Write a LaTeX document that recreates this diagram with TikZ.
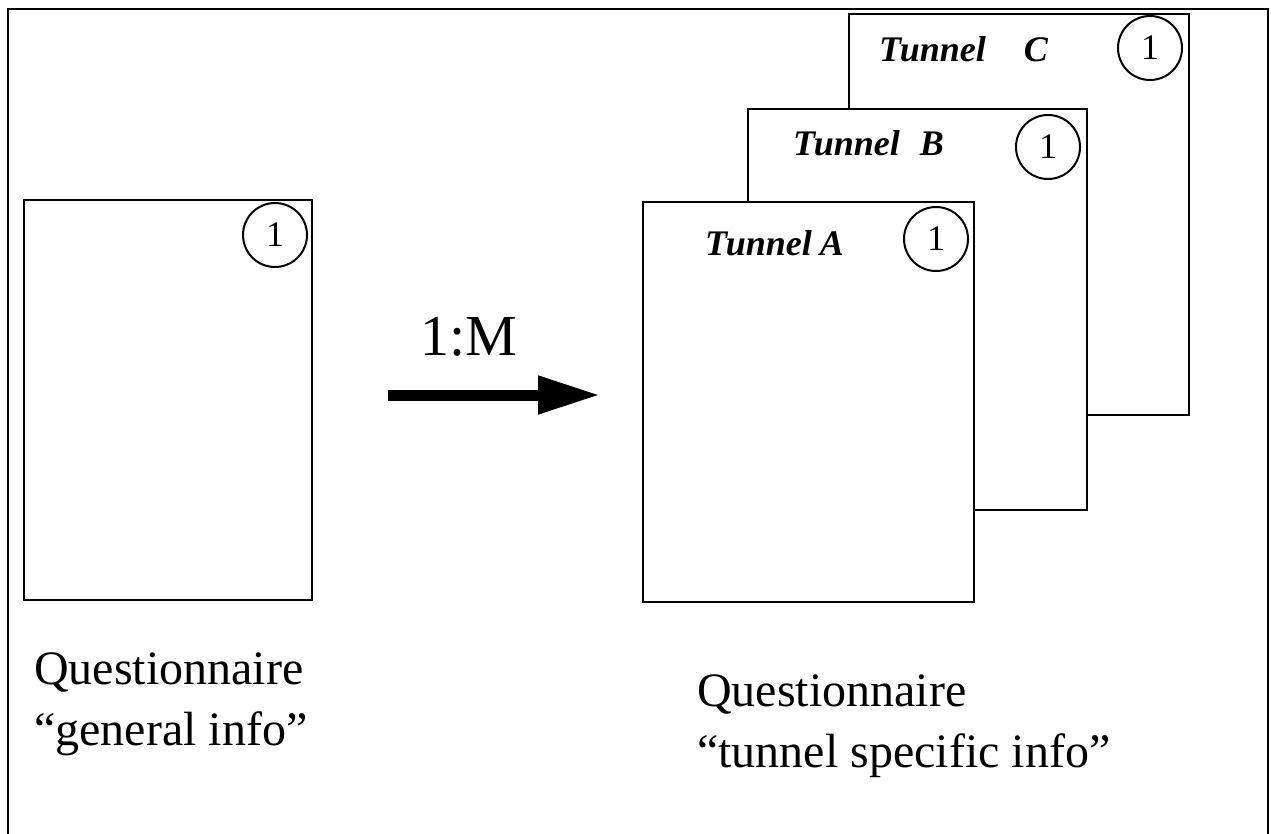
\documentclass[tikz,border=0pt]{standalone}
\usepackage{fontspec}
\setmainfont{Liberation Serif}
\usetikzlibrary{arrows.meta}
\tikzset{
  sheet/.style={draw, line width=2.5pt, fill=white, inner sep=0pt},
  badge/.style={draw, circle, line width=2pt, minimum size=64pt, inner sep=0pt,
    font=\fontsize{36}{36}\selectfont},
  tunnellabel/.style={anchor=base west, inner sep=0pt,
    font=\fontsize{36}{36}\selectfont\bfseries\itshape},
  caption/.style={anchor=base west, inner sep=0pt, font=\fontsize{48}{48}\selectfont},
  ratio/.style={anchor=base west, inner sep=0pt, font=\fontsize{58}{58}\selectfont},
  frameline/.style={line width=2.5pt},
  bigarrow/.style={line width=11pt, -{Triangle[length=62pt,width=36pt]}},
}
\begin{document}
\begin{tikzpicture}[x=1pt,y=-1pt]
\useasboundingbox (0,0) rectangle (1271,833);
\clip (0,0) rectangle (1271,833);

% outer frame (runs past the lower edge)
\draw[frameline] (8,9) rectangle (1268,900);

% general questionnaire sheet
\node[sheet, minimum width=288pt, minimum height=400pt] (gen) at (168,400) {};
\node[badge] (genone) at (275,235) {1};

% stack of tunnel sheets, back to front
\node[sheet, minimum width=340pt, minimum height=401pt] (tc) at (1019,214.5) {};
\node[badge] (tcone) at (1150,48) {1};
\node[tunnellabel] (tctext) at (879,61) {Tunnel\hspace{38pt}C};

\node[sheet, minimum width=339pt, minimum height=401pt] (tb) at (917.5,309.5) {};
\node[badge] (tbone) at (1048,147) {1};
\node[tunnellabel] (tbtext) at (793,155) {Tunnel\hspace{20pt}B};

\node[sheet, minimum width=331pt, minimum height=400pt] (ta) at (808.5,402) {};
\node[badge] (taone) at (936,239) {1};
\node[tunnellabel] (tatext) at (705,255) {Tunnel\hspace{8pt}A};

% one-to-many arrow
\coordinate (arrstart) at (388,395);
\coordinate (arrend) at (600,395);
\draw[bigarrow] (arrstart) -- (arrend);
\node[ratio] (ratiotext) at (420,355) {1:M};

% captions
\node[caption] (genq) at (34,684) {Questionnaire};
\node[caption] (geninfo) at (34,745) {“general info”};
\node[caption] (tunq) at (697,706) {Questionnaire};
\node[caption] (tuninfo) at (697,767) {“tunnel specific info”};
\end{tikzpicture}
\end{document}
